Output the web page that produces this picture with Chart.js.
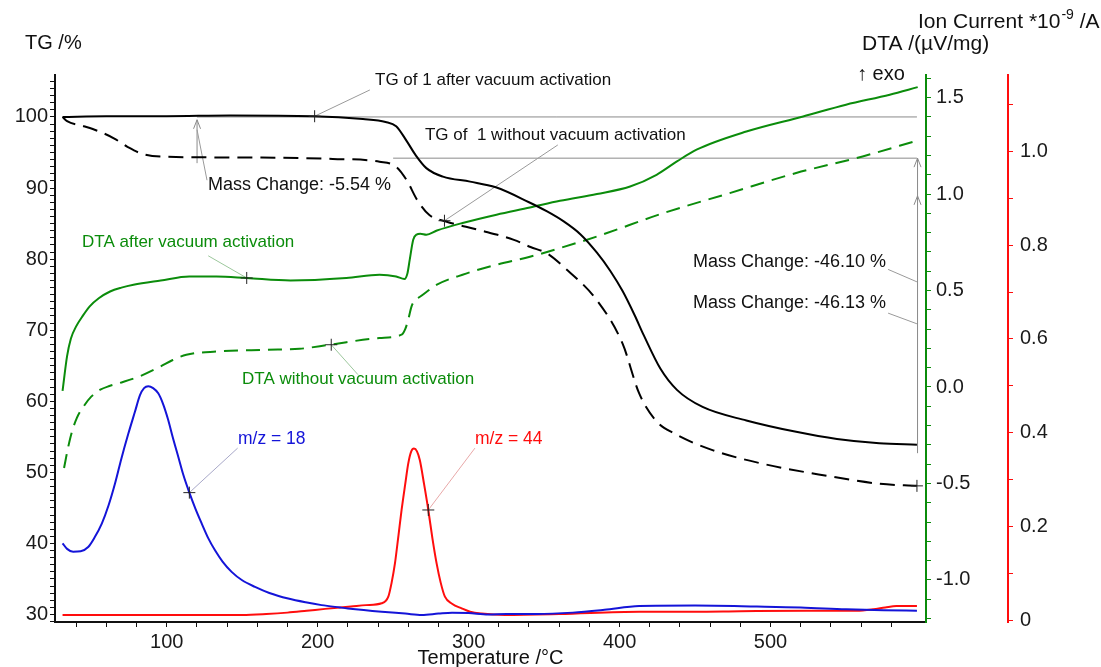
<!DOCTYPE html>
<html>
<head>
<meta charset="utf-8">
<script src="https://cdn.jsdelivr.net/npm/chart.js@4.4.1/dist/chart.umd.min.js"></script>
<style>
  html, body { margin: 0; padding: 0; background: #fff; }
  #wrap { width: 1101px; height: 667px; position: relative; }
</style>
</head>
<body>
<div id="wrap"><canvas id="chartTa"></canvas></div>
<script>
// TG after vacuum activation (solid black), temperature in °C
const tgAfterT = [31, 60, 100, 142, 197, 230, 245, 252, 259, 265, 272, 283, 301, 318, 340, 352, 363, 374, 385, 394, 402, 410, 416, 427, 438, 455, 484, 517, 544, 572, 597];
const tgAfter = [100.0, 100.1, 100.1, 100.2, 100.1, 99.7, 99.3, 98.7, 96.6, 94.6, 92.8, 91.6, 90.9, 90.1, 88.0, 86.7, 85.3, 83.5, 80.9, 78.3, 75.5, 72.1, 69.3, 64.6, 61.6, 59.2, 57.3, 55.7, 54.7, 54.1, 53.9];

// TG without vacuum activation (dashed black)
const tgBeforeT = [31, 34, 45, 56, 65, 74, 84, 100, 144, 210, 241, 252, 259, 266, 274, 285, 307, 330, 341, 352, 363, 385, 402, 413, 424, 436, 462, 495, 535, 572, 597];
const tgBefore = [100.0, 99.4, 98.7, 97.9, 97.0, 95.8, 94.8, 94.4, 94.3, 94.1, 93.7, 93.0, 91.1, 88.3, 86.2, 85.3, 84.1, 82.7, 81.7, 80.8, 78.9, 74.2, 68.1, 61.1, 57.3, 55.5, 53.1, 51.2, 49.6, 48.4, 48.1];

// DTA after vacuum activation (solid green), µV/mg
const dtaAfterT = [31, 34, 36.5, 40, 44.5, 49, 55, 62.5, 70, 78, 96, 115, 133, 153, 182, 219, 241, 252, 257.5, 259.5, 261, 263.3, 265.5, 268, 272, 279, 296, 318.5, 340.6, 360.5, 385, 407, 424.5, 438, 451, 484, 521.6, 550, 579, 597.5];
const dtaAfter = [-0.02, 0.16, 0.25, 0.314, 0.37, 0.418, 0.46, 0.495, 0.515, 0.53, 0.552, 0.573, 0.573, 0.565, 0.552, 0.565, 0.582, 0.573, 0.56, 0.59, 0.66, 0.763, 0.79, 0.794, 0.789, 0.811, 0.85, 0.893, 0.93, 0.965, 1.0, 1.039, 1.1, 1.169, 1.23, 1.324, 1.402, 1.463, 1.515, 1.554];

// DTA without vacuum activation (dashed green)
const dtaBeforeT = [32, 34.5, 37, 40.5, 45, 50, 56, 62, 69, 82, 96, 104, 113, 133, 166, 188, 208, 241, 255.6, 258, 260, 262.2, 264.5, 268, 279, 296, 318.5, 340.6, 360.5, 385, 429, 473, 517, 561, 597.5];
const dtaBefore = [-0.42, -0.32, -0.238, -0.16, -0.1, -0.05, -0.014, 0.005, 0.021, 0.055, 0.107, 0.14, 0.167, 0.184, 0.193, 0.198, 0.219, 0.254, 0.271, 0.3, 0.349, 0.418, 0.45, 0.469, 0.53, 0.582, 0.634, 0.675, 0.72, 0.78, 0.901, 1.005, 1.109, 1.195, 1.278];

// ion current m/z = 18 (blue), *10^-9 A
const mz18T = [31, 34, 38, 43, 48, 52, 57, 61.5, 65.8, 70, 74.6, 79, 82.3, 85, 87.8, 91, 94.4, 97.5, 101, 104, 107.7, 111, 115, 119, 123.2, 127.5, 132, 137, 143, 150, 158.5, 168, 180.5, 192, 202.6, 214.8, 220, 242.4, 258, 269, 280, 289, 300, 313, 325, 345, 369, 390, 413, 450, 491, 520, 550, 575, 597];
const mz18 = [0.164, 0.152, 0.146, 0.147, 0.156, 0.175, 0.206, 0.245, 0.292, 0.345, 0.398, 0.445, 0.48, 0.495, 0.499, 0.495, 0.484, 0.462, 0.427, 0.39, 0.348, 0.31, 0.272, 0.238, 0.206, 0.175, 0.149, 0.125, 0.103, 0.085, 0.071, 0.058, 0.046, 0.038, 0.032, 0.027, 0.025, 0.018, 0.014, 0.011, 0.014, 0.016, 0.015, 0.012, 0.013, 0.013, 0.016, 0.022, 0.03, 0.031, 0.029, 0.027, 0.023, 0.021, 0.02];

// ion current m/z = 44 (red)
const mz44T = [31, 100, 150, 166, 180, 192.7, 205, 214.8, 222, 232, 242.4, 246.8, 249, 251.2, 253.5, 255.6, 258, 260, 262, 263.8, 265.8, 267.7, 270.5, 273.3, 276, 278.8, 281.5, 284.3, 289, 295.4, 301, 308.6, 324, 360, 413, 450, 480, 524, 557, 568, 576, 583.4, 597];
const mz44 = [0.011, 0.011, 0.011, 0.013, 0.016, 0.02, 0.024, 0.027, 0.029, 0.032, 0.036, 0.05, 0.08, 0.121, 0.18, 0.235, 0.29, 0.334, 0.36, 0.366, 0.36, 0.341, 0.29, 0.235, 0.175, 0.121, 0.08, 0.05, 0.035, 0.025, 0.018, 0.014, 0.011, 0.013, 0.018, 0.018, 0.019, 0.02, 0.02, 0.023, 0.027, 0.03, 0.03];

// "+" markers sitting on the curves
const markTgT = [198, 284, 597];
const markTg = [100.1, 85.4, 48.1];
const markDtaT = [153, 209];
const markDta = [0.565, 0.219];
const markIonT = [115, 273.3];
const markIon = [0.272, 0.235];

// axis ranges
const tempRange = [26, 603];
const tgRange = [28.95, 105.9];
const dtaRange = [-1.218, 1.617];
const ionRange = [-0.004, 1.163];

const GREEN = '#0b8c0b';
const BLUE = '#1414d8';
const RED = '#ff0d0d';
const FONT = '"Liberation Sans", Arial, sans-serif';

// labels with their leader lines, in data units of the given axis
const notes = [
    { axis: 'yTg', text: 'TG of 1 after vacuum activation', at: [238, 105.2], line: [234.6, 103.8, 198, 100.1], color: '#111', lineColor: '#9a9a9a', size: 17 },
    { axis: 'yTg', text: 'TG of  1 without vacuum activation', at: [271.1, 97.46], line: [359.1, 96.06, 284, 85.4], color: '#111', lineColor: '#9a9a9a', size: 17 },
    { axis: 'yTg', text: 'Mass Change: -5.54 %', at: [127.3, 90.4], line: [126.7, 91.1, 120.1, 98.2], color: '#111', lineColor: '#9a9a9a', size: 18 },
    { axis: 'yTg', text: 'Mass Change: -46.10 %', at: [448.6, 79.6], line: [577.9, 78.55, 597, 76.8], color: '#111', lineColor: '#9a9a9a', size: 18 },
    { axis: 'yTg', text: 'Mass Change: -46.13 %', at: [448.6, 73.85], line: [577.9, 72.4, 597, 70.9], color: '#111', lineColor: '#9a9a9a', size: 18 },
    { axis: 'yDta', text: 'DTA after vacuum activation', at: [43.9, 0.748], line: [127.5, 0.68, 153, 0.565], color: GREEN, lineColor: '#9cc79c', size: 17 },
    { axis: 'yDta', text: 'DTA without vacuum activation', at: [149.9, 0.038], line: [209, 0.219, 226.7, 0.064], color: GREEN, lineColor: '#9cc79c', size: 17 },
    { axis: 'yIon', text: 'm/z = 18', at: [147.2, 0.386], line: [147, 0.367, 115, 0.272], color: BLUE, lineColor: '#a8a8c8', size: 17.5 },
    { axis: 'yIon', text: 'm/z = 44', at: [304.2, 0.386], line: [304.2, 0.367, 273.3, 0.235], color: RED, lineColor: '#e8a8a8', size: 17.5 },
];

// mass change reference levels and arrows (TG units)
const levelLines = [[120, 100.0, 597], [250, 94.2, 597]];
const massArrows = [
    { t: 120.1, from: 93.5, heads: [99.6] },
    { t: 597.4, from: 52.7, heads: [94.2, 88.9] },
];

const pts = (xs, ys) => xs.map((x, i) => ({ x: x, y: ys[i] }));

const curve = (data, axis, color, dash) => ({
    data: data,
    yAxisID: axis,
    borderColor: color,
    borderWidth: 2,
    borderDash: dash || [],
    pointRadius: 0,
    cubicInterpolationMode: 'monotone',
    fill: false,
    order: 2,
});

const marks = (data, axis) => ({
    data: data,
    yAxisID: axis,
    showLine: false,
    pointStyle: 'cross',
    pointRadius: 6,
    pointBorderWidth: 1,
    pointBorderColor: '#222',
    order: 0,
});

const drawArrowHead = (ctx, x, y) => {
    ctx.beginPath();
    ctx.moveTo(x - 3.5, y + 9);
    ctx.lineTo(x, y);
    ctx.lineTo(x + 3.5, y + 9);
    ctx.stroke();
};

const annotations = {
    id: 'annotations',
    beforeDatasetsDraw(chart) {
        const { ctx, scales } = chart;
        const sx = scales.x, sy = scales.yTg;
        ctx.save();
        ctx.strokeStyle = '#8a8a8a';
        ctx.lineWidth = 1;
        levelLines.forEach(([t0, v, t1]) => {
            ctx.beginPath();
            ctx.moveTo(sx.getPixelForValue(t0), sy.getPixelForValue(v));
            ctx.lineTo(sx.getPixelForValue(t1), sy.getPixelForValue(v));
            ctx.stroke();
        });
        massArrows.forEach((a) => {
            const x = sx.getPixelForValue(a.t);
            const top = Math.max(...a.heads);
            ctx.beginPath();
            ctx.moveTo(x, sy.getPixelForValue(a.from));
            ctx.lineTo(x, sy.getPixelForValue(top));
            ctx.stroke();
            a.heads.forEach((h) => drawArrowHead(ctx, x, sy.getPixelForValue(h)));
        });
        notes.forEach((n) => {
            const ay = scales[n.axis];
            ctx.strokeStyle = n.lineColor;
            ctx.beginPath();
            ctx.moveTo(sx.getPixelForValue(n.line[0]), ay.getPixelForValue(n.line[1]));
            ctx.lineTo(sx.getPixelForValue(n.line[2]), ay.getPixelForValue(n.line[3]));
            ctx.stroke();
        });
        ctx.restore();
    },
    afterDraw(chart) {
        const { ctx, scales } = chart;
        const sx = scales.x;
        ctx.save();
        ctx.textBaseline = 'middle';
        ctx.textAlign = 'left';
        notes.forEach((n) => {
            ctx.font = n.size + 'px ' + FONT;
            ctx.fillStyle = n.color;
            ctx.fillText(n.text, sx.getPixelForValue(n.at[0]), scales[n.axis].getPixelForValue(n.at[1]));
        });

        // axis titles
        ctx.fillStyle = '#111';
        ctx.font = '20px ' + FONT;
        ctx.fillText('TG /%', 25, 43);
        ctx.fillText('\u2191 exo', 857, 74);
        ctx.font = '21px ' + FONT;
        ctx.fillText('DTA /(\u00b5V/mg)', 862, 44);

        let x = 918;
        const base = 'Ion Current *10';
        ctx.fillText(base, x, 22);
        x += ctx.measureText(base).width;
        ctx.font = '14px ' + FONT;
        ctx.fillText('-9', x + 1, 15);
        x += ctx.measureText('-9').width + 1;
        ctx.font = '21px ' + FONT;
        ctx.fillText(' /A', x, 22);

        ctx.font = '20px ' + FONT;
        ctx.textAlign = 'center';
        ctx.fillText('Temperature /\u00b0C', (chart.chartArea.left + chart.chartArea.right) / 2, 658);
        ctx.restore();
    },
};

const tickFont = { family: FONT, size: 20 };
const tickColor = '#1a1a1a';

const axisGrid = (color) => ({
    drawOnChartArea: false,
    drawTicks: true,
    tickLength: 5,
    color: color,
    lineWidth: 1,
});

new Chart(document.getElementById('chartTa'), {
    type: 'line',
    data: {
        datasets: [
            curve(pts(tgAfterT, tgAfter), 'yTg', '#000'),
            curve(pts(tgBeforeT, tgBefore), 'yTg', '#000', [15, 8]),
            curve(pts(dtaAfterT, dtaAfter), 'yDta', GREEN),
            curve(pts(dtaBeforeT, dtaBefore), 'yDta', GREEN, [14, 8]),
            curve(pts(mz18T, mz18), 'yIon', BLUE),
            curve(pts(mz44T, mz44), 'yIon', RED),
            marks(pts(markTgT, markTg), 'yTg'),
            marks(pts(markDtaT, markDta), 'yDta'),
            marks(pts(markIonT, markIon), 'yIon'),
        ],
    },
    options: {
        responsive: true,
        maintainAspectRatio: false,
        animation: false,
        layout: { padding: { top: 75, left: 0, right: 0, bottom: 0 } },
        plugins: {
            legend: { display: false },
            tooltip: { enabled: false },
        },
        scales: {
            x: {
                type: 'linear',
                position: 'bottom',
                min: tempRange[0],
                max: tempRange[1],
                border: { color: '#111', width: 2 },
                grid: axisGrid('#111'),
                ticks: {
                    stepSize: 20,
                    includeBounds: false,
                    autoSkip: false,
                    maxRotation: 0,
                    padding: 3,
                    font: tickFont,
                    color: tickColor,
                    // the scale stops short of a 600 tick
                    callback: (v) => (v >= 600 ? null : (v % 100 === 0 ? String(v) : '')),
                },
                afterFit: (s) => { s.height = 45; },
            },
            yTg: {
                type: 'linear',
                position: 'left',
                min: tgRange[0],
                max: tgRange[1],
                border: { color: '#111', width: 2 },
                grid: axisGrid('#111'),
                ticks: {
                    stepSize: 1,
                    includeBounds: false,
                    autoSkip: false,
                    padding: 2,
                    font: tickFont,
                    color: tickColor,
                    callback: (v) => (Math.round(v) % 10 === 0 ? String(Math.round(v)) : ''),
                },
                afterFit: (s) => { s.width = 55; },
            },
            yDta: {
                type: 'linear',
                position: 'right',
                weight: 0,
                min: dtaRange[0],
                max: dtaRange[1],
                border: { color: GREEN, width: 2 },
                grid: axisGrid(GREEN),
                ticks: {
                    stepSize: 0.1,
                    includeBounds: false,
                    autoSkip: false,
                    padding: 5,
                    font: tickFont,
                    color: tickColor,
                    callback: (v) => (Math.round(v * 10) % 5 === 0 ? v.toFixed(1) : ''),
                },
                afterFit: (s) => { s.width = 82; },
            },
            yIon: {
                type: 'linear',
                position: 'right',
                weight: 1,
                min: ionRange[0],
                max: ionRange[1],
                border: { color: RED, width: 2 },
                grid: axisGrid(RED),
                ticks: {
                    stepSize: 0.1,
                    includeBounds: false,
                    autoSkip: false,
                    padding: 7,
                    font: tickFont,
                    color: tickColor,
                    callback: (v) => {
                        const k = Math.round(v * 10);
                        if (k % 2 !== 0) return '';
                        return k === 0 ? '0' : v.toFixed(1);
                    },
                },
                afterFit: (s) => { s.width = 93; },
            },
        },
    },
    plugins: [annotations],
});
</script>
</body>
</html>
